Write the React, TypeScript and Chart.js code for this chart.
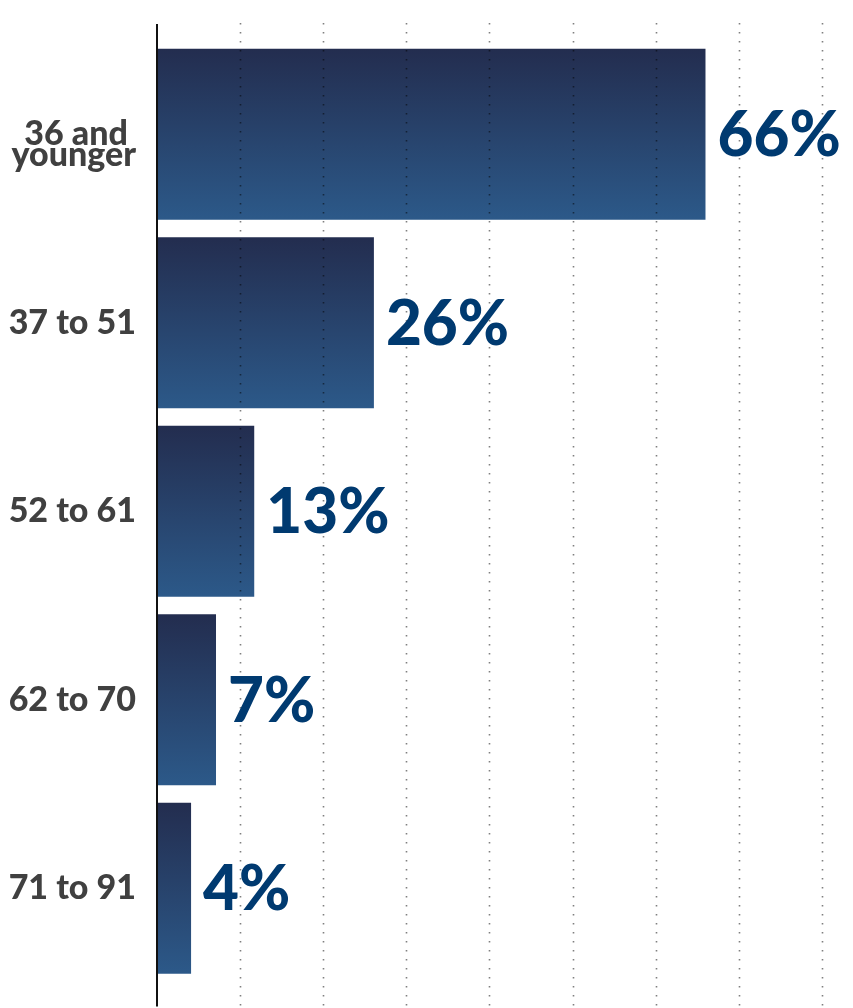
import React, { useEffect, useRef } from "react";
import { Chart, registerables } from "chart.js";

Chart.register(...registerables);

const categories: (string | string[])[] = [["", "36 and ", "younger"], "37 to 51", "52 to 61", "62 to 70", "71 to 91"];
const shares = [66, 26.1, 11.7, 7.1, 4.1];
const shareLabels = ["66%", "26%", "13%", "7%", "4%"];
const gridValues = [10, 20, 30, 40, 50, 60, 70, 80];

const BAR_PCT = 0.907;

const overlayPlugin = {
  id: "overlay",
  afterDatasetsDraw(chart: any) {
    const { ctx, scales, chartArea } = chart;
    const x = scales.x;
    const y = scales.y;
    ctx.save();
    // dotted grid
    ctx.strokeStyle = "rgba(0,0,0,0.5)";
    ctx.lineWidth = 1.6;
    ctx.setLineDash([1.6, 7.4]);
    for (const v of gridValues) {
      const px = Math.round(x.getPixelForValue(v)) + 0.5;
      ctx.beginPath();
      ctx.moveTo(px, chartArea.top - 17);
      ctx.lineTo(px, chartArea.bottom + 26);
      ctx.stroke();
    }
    ctx.setLineDash([]);
    // axis line
    ctx.strokeStyle = "#111111";
    ctx.lineWidth = 2;
    ctx.beginPath();
    ctx.moveTo(chartArea.left, chartArea.top - 16);
    ctx.lineTo(chartArea.left, chartArea.bottom + 24);
    ctx.stroke();
    // value labels
    ctx.fillStyle = "#003a70";
    ctx.font = "900 62px Lato";
    ctx.textAlign = "left";
    ctx.textBaseline = "alphabetic";
    shares.forEach((v, i) => {
      const px = x.getPixelForValue(v) + 12;
      const py = y.getPixelForValue(i) + 22;
      ctx.fillText(shareLabels[i], px, py);
    });
    ctx.restore();
  },
};

export default function App() {
  const ref = useRef<HTMLCanvasElement | null>(null);
  useEffect(() => {
    if (!ref.current) return;
    const chart = new Chart(ref.current, {
      type: "bar",
      data: {
        labels: categories as any,
        datasets: [
          {
            data: shares,
            categoryPercentage: 1,
            barPercentage: BAR_PCT,
            borderWidth: 0,
            backgroundColor: (c: any) => {
              const ch = c.chart;
              const area = ch.chartArea;
              const ys = ch.scales?.y;
              if (!area || !ys || c.dataIndex === undefined) return "#2a4470";
              const cy = ys.getPixelForValue(c.dataIndex);
              const half = (ys.height / categories.length) * BAR_PCT / 2;
              const g = ch.ctx.createLinearGradient(0, cy - half, 0, cy + half);
              g.addColorStop(0, "#232d4f");
              g.addColorStop(1, "#2c5989");
              return g;
            },
          },
        ],
      },
      options: {
        indexAxis: "y",
        animation: false,
        responsive: false,
        layout: { padding: { top: 40, bottom: 25.5, left: 0, right: 0 } },
        plugins: { legend: { display: false }, tooltip: { enabled: false } },
        scales: {
          x: {
            display: false,
            min: 0,
            max: 83.75,
          },
          y: {
            afterFit: (s: any) => {
              s.width = 157;
              s.paddingTop = 0;
              s.paddingBottom = 0;
            },
            grid: { display: false, drawTicks: false },
            border: { display: false },
            ticks: {
              padding: 21,
              color: "#404040",
              font: { family: "Lato", weight: "900", size: 34, lineHeight: 0.6 },
            },
          },
        },
      },
      plugins: [overlayPlugin],
    });
    return () => chart.destroy();
  }, []);
  return (
    <div style={{ position: "absolute", left: 0, top: 0, width: 853, height: 1008, background: "#fff" }}>
      <canvas ref={ref} width={853} height={1008} style={{ display: "block" }} />
    </div>
  );
}
